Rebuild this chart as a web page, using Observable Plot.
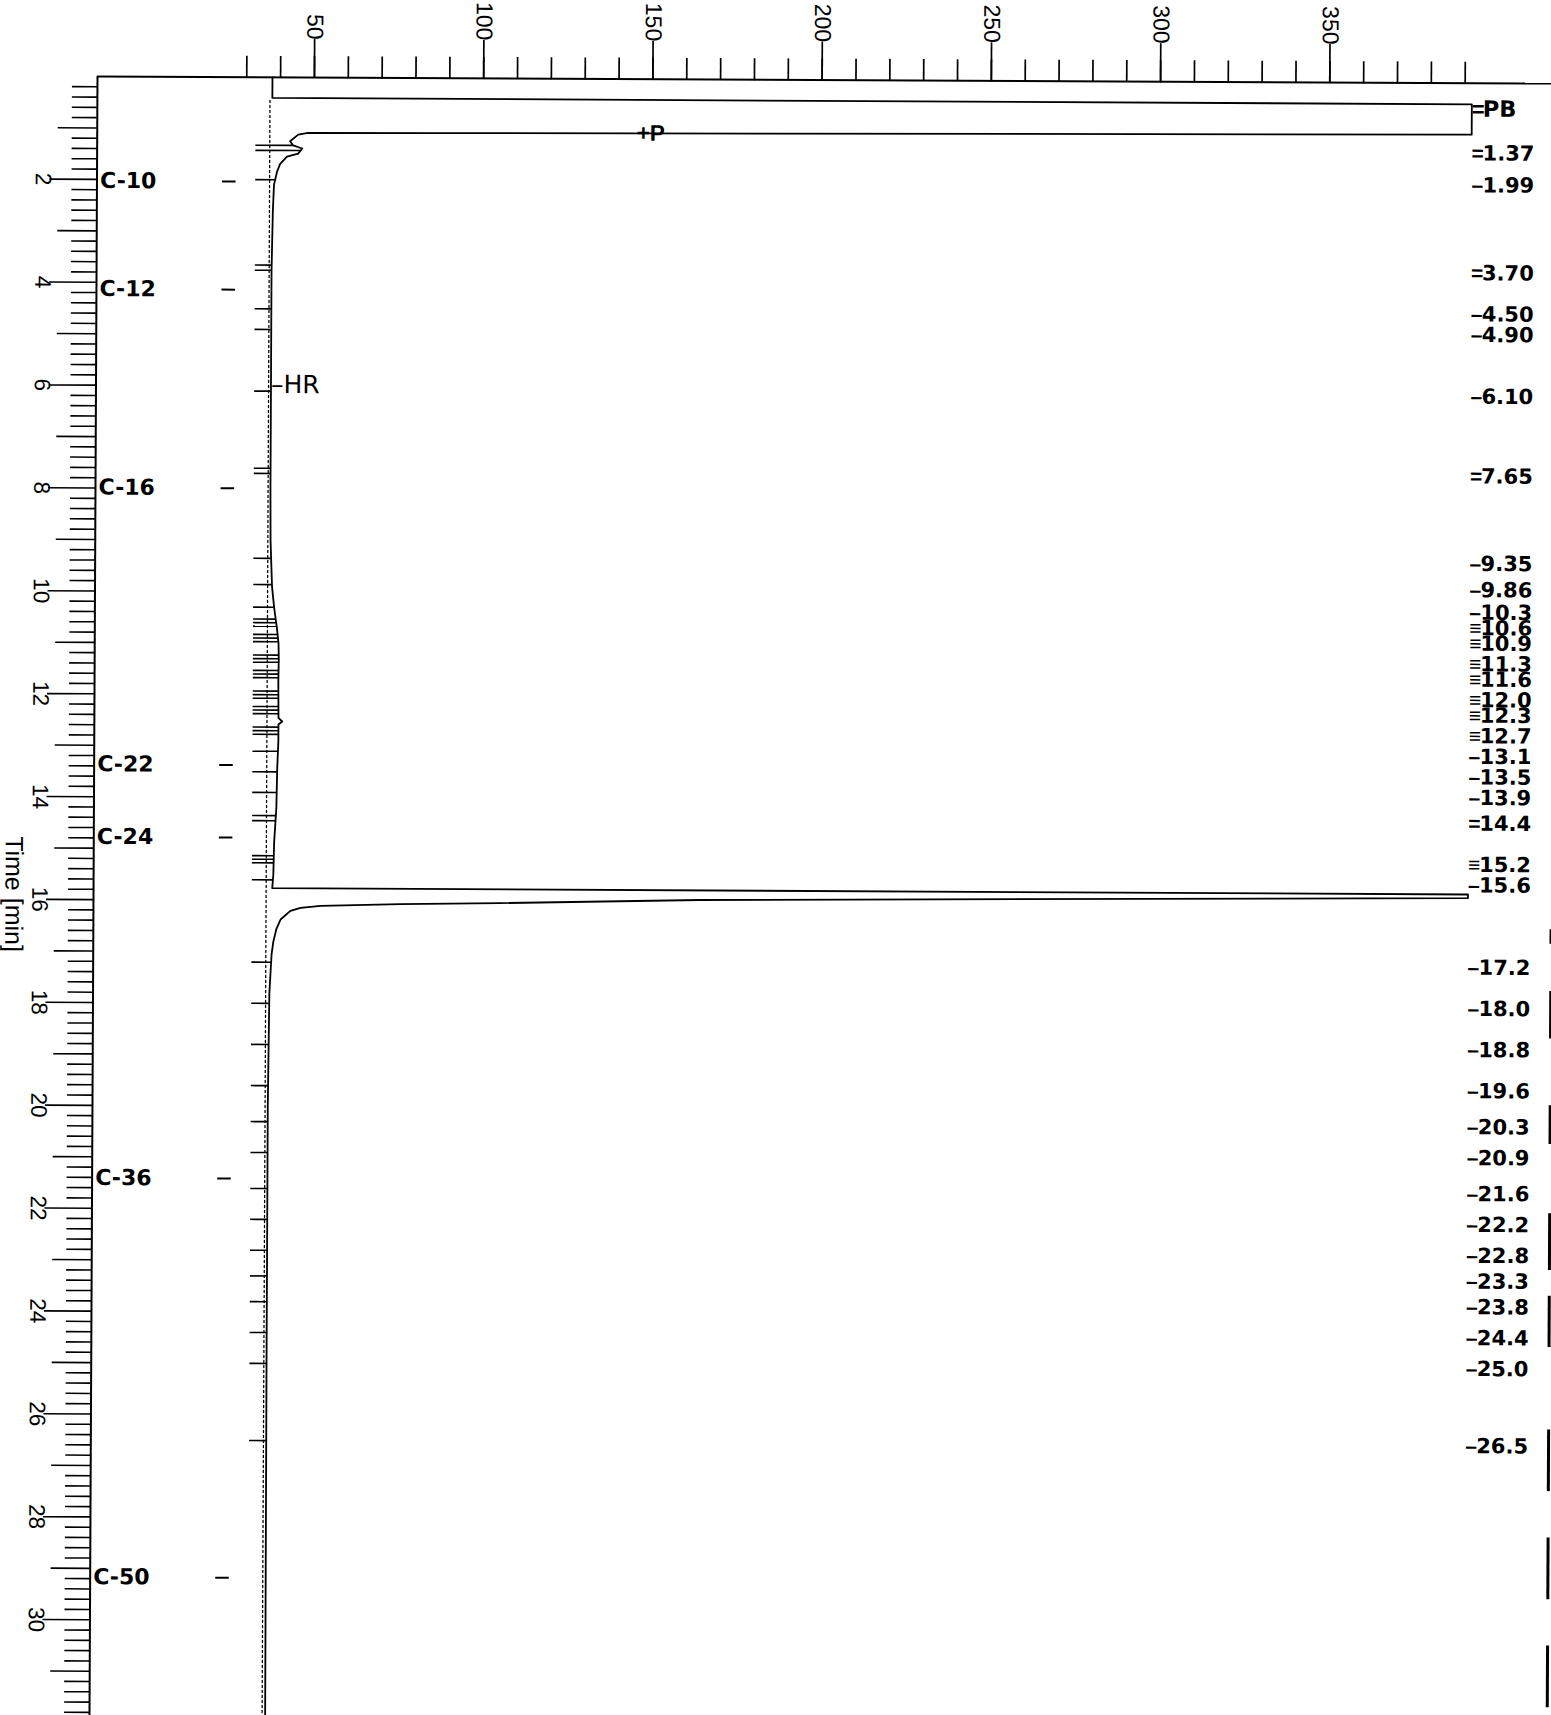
<!DOCTYPE html>
<html><head><meta charset="utf-8">
<script src="https://cdn.jsdelivr.net/npm/d3@7"></script>
<script src="https://cdn.jsdelivr.net/npm/@observablehq/plot@0.6"></script>
<style>
html,body{margin:0;padding:0;background:#fff;overflow:hidden;}
#chart svg{display:block;overflow:visible;transform:rotate(0.28deg);transform-origin:97px 76px;}
</style></head><body><div id="chart"></div>
<script>
// ---- chromatogram trace (time in min, signal) ----
const traceTime   = [0.00, 0.40, 0.41, 1.00, 1.067, 1.075, 1.11, 1.24, 1.32, 1.38, 1.48, 1.54, 1.68, 1.83, 2.09, 2.61, 3.77, 6.0, 8.0, 9.0, 9.9, 10.33, 10.7, 11.0, 11.3, 11.75, 12.45, 12.52, 12.58, 12.9, 13.43, 14.2, 14.86, 15.5, 15.76, 15.77, 15.84, 15.95, 16.03, 16.06, 16.1, 16.14, 16.2, 16.37, 16.55, 16.8, 17.05, 17.8, 20.0, 25.0, 31.86];
const traceSignal = [37.6, 37.6, 392, 392, 87, 48.2, 45.3, 42.9, 43.8, 46.5, 45.3, 42.0, 40.0, 39.1, 38.2, 37.9, 37.6, 37.6, 37.6, 37.7, 38.2, 38.9, 39.7, 40.2, 40.3, 40.2, 40.3, 41.4, 40.3, 40.3, 40.0, 39.8, 39.2, 39.0, 38.7, 392, 392, 165, 106, 76.6, 53, 47.1, 44.1, 41.2, 40.0, 39.1, 38.6, 38.0, 37.7, 37.7, 37.8];
// dotted baseline
const baselineTime   = [0.45, 31.86];
const baselineSignal = [36.9, 36.9];
// integrated peaks (retention times, label text, marker)
const peakTimes  = [1.37, 1.99, 3.70, 4.50, 4.90, 6.10, 7.65, 9.35, 9.86, 10.3, 10.6, 10.9, 11.3, 11.6, 12.0, 12.3, 12.7, 13.1, 13.5, 13.9, 14.4, 15.2, 15.6, 17.2, 18.0, 18.8, 19.6, 20.3, 20.9, 21.6, 22.2, 22.8, 23.3, 23.8, 24.4, 25.0, 26.5];
const peakLabels = ["1.37","1.99","3.70","4.50","4.90","6.10","7.65","9.35","9.86","10.3","10.6","10.9","11.3","11.6","12.0","12.3","12.7","13.1","13.5","13.9","14.4","15.2","15.6","17.2","18.0","18.8","19.6","20.3","20.9","21.6","22.2","22.8","23.3","23.8","24.4","25.0","26.5"];
const peakMarks  = ["=","–","=","–","–","–","=","–","–","–","≡","≡","≡","≡","≡","≡","≡","–","–","–","=","≡","–","–","–","–","–","–","–","–","–","–","–","–","–","–","–"];
// alkane reference labels
const alkaneTimes  = [2.03, 4.13, 7.99, 13.37, 14.78, 21.41, 29.17];
const alkaneLabels = ["C-10","C-12","C-16","C-22","C-24","C-36","C-50"];
// event annotations
const eventTimes  = [0.51, 1.055, 5.98];
const eventLabels = ["PB", "P", "HR"];
// axis ticks
const signalTicks  = [30,40,50,60,70,80,90,100,110,120,130,140,150,160,170,180,190,200,210,220,230,240,250,260,270,280,290,300,310,320,330,340,350,360,370,380,390];
const signalLabels = [50,100,150,200,250,300,350];
const timeLabels   = [2,4,6,8,10,12,14,16,18,20,22,24,26,28,30];
const timeOdd      = [1,3,5,7,9,11,13,15,17,19,21,23,25,27,29,31];
// scanned page edge marks (start, end in min)
const edgeStart = [16.45, 17.65, 19.87, 21.97, 23.57, 26.17, 28.27, 30.37];
const edgeEnd   = [16.73, 18.57, 20.62, 23.07, 24.57, 27.37, 29.47, 31.57];

const trace = traceTime.map((t, i) => ({t, s: traceSignal[i]}));
const baseline = baselineTime.map((t, i) => ({t, s: baselineSignal[i]}));
function traceAt(t) {
  for (let i = 1; i < trace.length; i++) {
    const a = trace[i-1], b = trace[i];
    if (t >= a.t && t <= b.t && b.t > a.t) return a.s + (b.s - a.s) * (t - a.t) / (b.t - a.t);
  }
  return trace[trace.length-1].s;
}
const peaks = peakTimes.map((t, i) => ({t, label: peakLabels[i], mark: peakMarks[i]}));
const markOffsets = {"–": [0], "=": [-0.05, 0.05], "≡": [-0.07, 0, 0.07]};
const peakTicks = peaks.flatMap(p => markOffsets[p.mark].map(o => ({t: p.t + o, s2: traceAt(p.t + o)})));
const alkanes = alkaneTimes.map((t, i) => ({t, label: alkaneLabels[i]}));
const events = eventTimes.map((t, i) => ({t, label: eventLabels[i]}));
const minorTimes = d3.range(1, 160).map(i => i / 5).filter(v => Math.abs(v - Math.round(v)) > 1e-6);
const edges = edgeStart.map((t1, i) => ({t1, t2: edgeEnd[i]}));

const FULL = 392;        // full-scale signal where peaks are clipped
const sans = "'Liberation Sans', Arial, sans-serif";
const wide = "'DejaVu Sans', sans-serif";

const chart = Plot.plot({
  width: 1551, height: 1715,
  marginTop: 76, marginLeft: 97, marginRight: 0, marginBottom: 0,
  x: {domain: [-14.1, 415.5], axis: null},
  y: {domain: [0, 31.86], reverse: true, axis: null},
  style: {background: "#fff", color: "#000", fontFamily: sans},
  marks: [
    // frame
    Plot.ruleY([0], {strokeWidth: 2}),
    Plot.ruleX([-14.1], {strokeWidth: 2}),
    // top axis
    Plot.axisX(signalTicks, {anchor: "top", tickSize: 22, tickFormat: () => "", label: null, strokeWidth: 1.7}),
    Plot.axisX(signalLabels, {anchor: "top", tickSize: 39, tickFormat: () => "", label: null, strokeWidth: 1.7}),
    Plot.text(signalLabels, {x: d => d, frameAnchor: "top", dy: -38, rotate: 90, textAnchor: "end", lineAnchor: "middle", fontSize: 23, fontFamily: sans}),
    // left axis
    Plot.axisY(minorTimes, {anchor: "left", tickSize: 25, tickFormat: () => "", label: null, strokeWidth: 1.6}),
    Plot.axisY(timeOdd, {anchor: "left", tickSize: 39, tickFormat: () => "", label: null, strokeWidth: 1.6}),
    Plot.axisY(timeLabels, {anchor: "left", tickSize: 47, tickFormat: () => "", label: null, strokeWidth: 1.6}),
    Plot.text(timeLabels, {y: d => d, frameAnchor: "left", dx: -54, rotate: 90, textAnchor: "middle", lineAnchor: "middle", fontSize: 22.5, fontFamily: sans}),
    Plot.text([{t: 15.9, label: "Time [min]"}], {y: "t", text: "label", frameAnchor: "left", dx: -80, rotate: 90, textAnchor: "middle", lineAnchor: "middle", fontSize: 25, fontFamily: sans}),
    // alkane labels
    Plot.text(alkanes, {x: -13.2, y: "t", text: "label", textAnchor: "start", fontSize: 22, fontWeight: "bold", fontFamily: wide}),
    Plot.ruleY(alkanes, {y: "t", x1: 23, x2: 27, strokeWidth: 2}),
    // baseline and trace
    Plot.line(baseline, {x: "s", y: "t", strokeDasharray: "2,3", strokeWidth: 1.3}),
    Plot.ruleY(peakTicks, {y: "t", x1: 32.8, x2: "s2", strokeWidth: 1.6}),
    Plot.line(trace, {x: "s", y: "t", strokeWidth: 1.8}),
    // peak labels at the right
    Plot.text(peaks, {x: FULL, y: "t", text: "mark", textAnchor: "start", fontSize: 21, fontWeight: "bold", fontFamily: sans}),
    Plot.text(peaks, {x: FULL, y: "t", text: "label", dx: 11, textAnchor: "start", fontSize: 21, fontWeight: "bold", fontFamily: wide}),
    // events
    Plot.text(events.filter(e => e.label === "PB"), {x: FULL, y: "t", text: () => "=", textAnchor: "start", fontSize: 22, fontWeight: "bold", fontFamily: sans}),
    Plot.text(events.filter(e => e.label === "PB"), {x: FULL, y: "t", text: "label", dx: 11, textAnchor: "start", fontSize: 22.5, fontWeight: "bold", fontFamily: wide}),
    Plot.text(events.filter(e => e.label === "P"), {x: 145.3, y: "t", text: d => "+" + d.label, textAnchor: "start", fontSize: 22.5, fontWeight: "bold", fontFamily: sans}),
    Plot.text(events.filter(e => e.label === "HR"), {x: 37.6, y: "t", text: d => "–" + d.label, textAnchor: "start", fontSize: 25, fontFamily: wide}),
    // page edge marks of the scan
    Plot.ruleX(edges, {x: 416.6, y1: "t1", y2: "t2", strokeWidth: 3})
  ]
});
document.getElementById("chart").appendChild(chart);
</script></body></html>
